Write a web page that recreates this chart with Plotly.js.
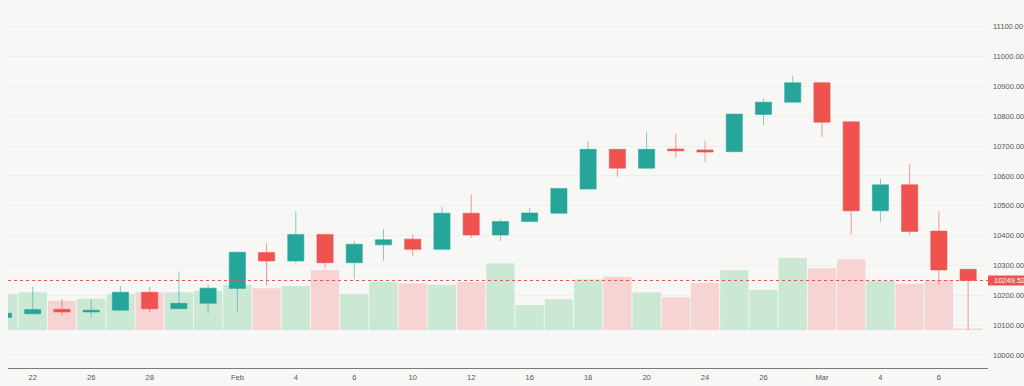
<!DOCTYPE html>
<html>
<head>
<meta charset="utf-8">
<script src="https://cdn.plot.ly/plotly-3.0.1.min.js"></script>
<style>
  html, body { margin: 0; padding: 0; overflow: hidden; background: #f7f8f6; }
  #chart { width: 1024px; height: 386px; }
</style>
</head>
<body>
<div id="chart"></div>
<script>
// ---- data ----
const dates = [
  '2021-01-21','2021-01-22','2021-01-25','2021-01-26','2021-01-27','2021-01-28','2021-01-29','2021-01-31',
  '2021-02-01','2021-02-02','2021-02-04','2021-02-05','2021-02-06','2021-02-08','2021-02-10','2021-02-11',
  '2021-02-12','2021-02-14','2021-02-16','2021-02-17','2021-02-18','2021-02-19','2021-02-20','2021-02-22',
  '2021-02-24','2021-02-25','2021-02-26','2021-02-27','2021-03-01','2021-03-02','2021-03-04','2021-03-05',
  '2021-03-06','2021-03-07'
];
const open  = [10126,10138,10153,10144,10150,10210,10155,10173,10223,10343,10315,10404,10309,10369,10388,10354,
               10475,10402,10447,10475,10556,10689,10626,10690,10687,10681,10806,10847,10912,10781,10483,10570,
               10415,10287];
const high  = [10143,10229,10188,10188,10231,10228,10279,10236,10348,10375,10482,10405,10382,10421,10403,10496,
               10538,10455,10492,10559,10717,10690,10748,10740,10718,10808,10859,10936,10913,10782,10590,10639,
               10482,10288];
const low   = [10123,10136,10132,10125,10147,10143,10154,10140,10144,10233,10307,10290,10254,10316,10332,10353,
               10392,10382,10446,10472,10555,10597,10625,10661,10646,10680,10771,10846,10730,10405,10445,10403,
               10235,10084];
const close = [10140,10152,10144,10150,10210,10155,10173,10224,10344,10315,10404,10309,10371,10386,10354,10475,
               10402,10447,10476,10558,10689,10626,10689,10684,10680,10807,10847,10912,10780,10483,10570,10414,
               10285,10249.52];
const volume = [360,377,293,313,360,377,377,393,450,417,440,600,360,480,467,453,
                480,667,250,307,507,533,377,327,473,597,400,720,617,707,493,463,
                500,15];
const tickDates  = ['2021-01-22','2021-01-26','2021-01-28','2021-02-01','2021-02-04','2021-02-06','2021-02-10',
                    '2021-02-12','2021-02-16','2021-02-18','2021-02-20','2021-02-24','2021-02-26','2021-03-01',
                    '2021-03-04','2021-03-06'];
const tickLabels = ['22','26','28','Feb','4','6','10','12','16','18','20','24','26','Mar','4','6'];

// ---- style ----
const UP = '#26a69a', DOWN = '#ef5350';
const UP_VOL = '#cbe8d5', DOWN_VOL = '#f7d4d4';
const BG = '#f7f8f6';
const FONT = 'Liberation Sans, Arial, sans-serif';
const lastClose = close[close.length - 1];

const volColors = close.map((c, i) => c >= open[i] ? UP_VOL : DOWN_VOL);

const traces = [
  {
    type: 'bar', x: dates, y: volume, yaxis: 'y', xaxis: 'x',
    marker: { color: volColors, line: { width: 0 } },
    hoverinfo: 'skip'
  },
  {
    type: 'candlestick', x: dates, open: open, high: high, low: low, close: close,
    xaxis: 'x', yaxis: 'y2',
    increasing: { line: { color: 'rgba(38,166,154,0.55)', width: 1 }, fillcolor: UP },
    decreasing: { line: { color: 'rgba(239,83,80,0.6)', width: 1 }, fillcolor: DOWN },
    whiskerwidth: 0,
    hoverinfo: 'skip'
  }
];

const layout = {
  width: 1024, height: 386,
  margin: { l: 8, r: 36, t: 0, b: 18 },
  paper_bgcolor: BG, plot_bgcolor: BG,
  showlegend: false,
  boxgap: 0.21, bargap: 0.03,
  font: { family: FONT, size: 7.5, color: '#555' },
  xaxis: {
    type: 'category', range: [0.154, 33.68],
    tickmode: 'array', tickvals: tickDates, ticktext: tickLabels,
    showgrid: false, showline: true, linecolor: '#7a7a7a', linewidth: 1,
    ticks: '', ticklabelstandoff: 2, zeroline: false,
    rangeslider: { visible: false }, fixedrange: true,
    tickfont: { family: FONT, size: 7.5, color: '#555' }
  },
  yaxis: { range: [-380, 3300], visible: false, fixedrange: true },
  yaxis2: {
    overlaying: 'y', side: 'right', range: [9956.4, 11189.3],
    tick0: 10000, dtick: 100, tickformat: '.2f',
    showgrid: true, gridcolor: '#eef0ed', gridwidth: 1,
    zeroline: false, showline: false, ticks: '', ticklabelstandoff: 4,
    fixedrange: true,
    tickfont: { family: FONT, size: 7.5, color: '#555' }
  },
  shapes: [
    { type: 'line', xref: 'paper', x0: 0, x1: 1, yref: 'y2', y0: lastClose, y1: lastClose,
      line: { color: DOWN, width: 1, dash: 'dot' }, layer: 'above' },
    { type: 'rect', xref: 'paper', x0: 1, x1: 1.06, yref: 'y2', ysizemode: 'pixel', yanchor: lastClose,
      y0: -5, y1: 5, fillcolor: DOWN, line: { width: 0 }, layer: 'above' }
  ],
  annotations: [
    { xref: 'paper', x: 1, xanchor: 'left', xshift: 4, yref: 'y2', y: lastClose, yanchor: 'middle',
      text: lastClose.toFixed(2), showarrow: false,
      font: { family: FONT, size: 7.5, color: '#ffffff' } }
  ]
};

Plotly.newPlot('chart', traces, layout, { staticPlot: true, displayModeBar: false });
</script>
</body>
</html>
